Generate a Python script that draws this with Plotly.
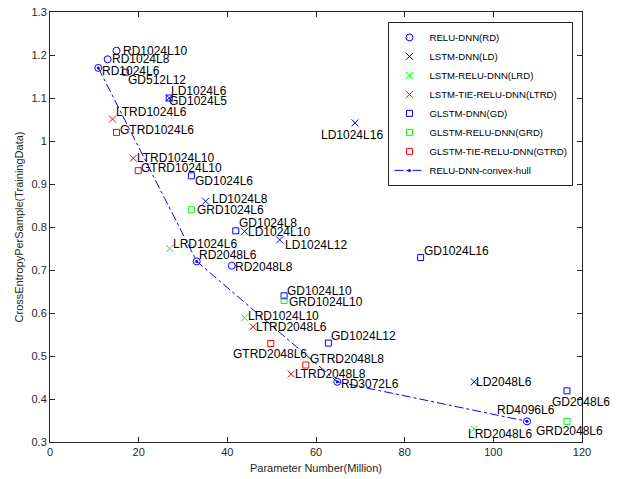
import plotly.graph_objects as go

# ---- data ----
rd_names = ["RD1024L10", "RD1024L8", "RD1024L6", "RD2048L6", "RD2048L8", "RD3072L6", "RD4096L6"]
rd_x = [15.0, 13.0, 10.9, 33.1, 41.0, 64.8, 107.6]
rd_y = [1.21, 1.19, 1.17, 0.72, 0.71, 0.44, 0.348]

ld_names = ["LD1024L6", "LD1024L16", "LD1024L8", "LD1024L10", "LD1024L12", "LD2048L6"]
ld_x = [26.9, 68.8, 35.1, 43.9, 51.8, 95.7]
ld_y = [1.10, 1.042, 0.86, 0.79, 0.77, 0.44]

lrd_names = ["LRD1024L6", "LRD1024L10", "LRD2048L6"]
lrd_x = [27.0, 43.9, 95.7]
lrd_y = [0.75, 0.589, 0.33]

ltrd_names = ["LTRD1024L6", "LTRD1024L10", "LTRD2048L6", "LTRD2048L8"]
ltrd_x = [14.1, 18.8, 45.8, 54.4]
ltrd_y = [1.051, 0.96, 0.568, 0.458]

gd_names = ["GD512L12", "GD1024L5", "GD1024L6", "GD1024L8", "GD1024L10", "GD1024L12", "GD1024L16", "GD2048L6"]
gd_x = [17.0, 26.9, 31.9, 41.9, 52.8, 62.8, 83.6, 116.6]
gd_y = [1.16, 1.10, 0.919, 0.791, 0.64, 0.53, 0.729, 0.419]

grd_names = ["GRD1024L6", "GRD1024L10", "GRD2048L6"]
grd_x = [31.9, 52.8, 116.6]
grd_y = [0.84, 0.629, 0.348]

gtrd_names = ["GTRD1024L6", "GTRD1024L10", "GTRD2048L6", "GTRD2048L8"]
gtrd_x = [15.0, 19.9, 49.8, 57.7]
gtrd_y = [1.02, 0.931, 0.529, 0.479]

hull_x = [10.9, 33.1, 64.8, 107.6]
hull_y = [1.17, 0.72, 0.44, 0.348]

x_ticks = [0, 20, 40, 60, 80, 100, 120]
y_ticks = [0.3, 0.4, 0.5, 0.6, 0.7, 0.8, 0.9, 1.0, 1.1, 1.2, 1.3]
y_tick_text = ["0.3", "0.4", "0.5", "0.6", "0.7", "0.8", "0.9", "1", "1.1", "1.2", "1.3"]

# label offsets in pixels (dx from point to text start, dy down-positive to text centre)
label_offsets = {
    "RD1024L10": (6, 0), "RD1024L8": (4, 0), "RD1024L6": (4, 3), "GD512L12": (3, 8),
    "LD1024L6": (2, -7), "GD1024L5": (0, 3), "LTRD1024L6": (3, -7), "GTRD1024L6": (3, -2),
    "LTRD1024L10": (4, 0), "GTRD1024L10": (3, -3), "GD1024L6": (4, 5), "LD1024L8": (6, -2),
    "GRD1024L6": (6, 0), "GD1024L8": (3, -8), "LD1024L10": (3, 1), "LD1024L12": (5, 5),
    "LRD1024L6": (3, -5), "RD2048L6": (2, -6), "RD2048L8": (3, 1), "GD1024L10": (3, -5),
    "GRD1024L10": (5, 1), "LRD1024L10": (3, -2), "LTRD2048L6": (3, 0), "GTRD2048L6": (-38, 10),
    "GTRD2048L8": (4, -6), "LTRD2048L8": (4, 0), "GD1024L16": (3, -7), "GD1024L12": (3, -7),
    "RD3072L6": (4, 2), "LD2048L6": (2, 0), "RD4096L6": (-30, -11), "GD2048L6": (-15, 11),
    "GRD2048L6": (-31, 10), "LRD2048L6": (-6, 5), "LD1024L16": (-34, 12),
}

BLUE, GREEN, RED = "#0000FF", "#00FF00", "#FF0000"
FONT = "Liberation Sans, Arial, sans-serif"

series = [
    ("RELU-DNN(RD)", rd_names, rd_x, rd_y, "circle-open", BLUE, 7),
    ("LSTM-DNN(LD)", ld_names, ld_x, ld_y, "x-thin-open", BLUE, 7),
    ("LSTM-RELU-DNN(LRD)", lrd_names, lrd_x, lrd_y, "x-thin-open", GREEN, 7),
    ("LSTM-TIE-RELU-DNN(LTRD)", ltrd_names, ltrd_x, ltrd_y, "x-thin-open", RED, 7),
    ("GLSTM-DNN(GD)", gd_names, gd_x, gd_y, "square-open", BLUE, 6),
    ("GLSTM-RELU-DNN(GRD)", grd_names, grd_x, grd_y, "square-open", GREEN, 6),
    ("GLSTM-TIE-RELU-DNN(GTRD)", gtrd_names, gtrd_x, gtrd_y, "square-open", RED, 6),
]

fig = go.Figure()
annotations = []
for name, names, xs, ys, sym, col, sz in series:
    fig.add_trace(go.Scatter(
        x=xs, y=ys, mode="markers", name=name,
        marker=dict(symbol=sym, color=col, size=sz, line=dict(color=col, width=1)),
    ))
    for n, xv, yv in zip(names, xs, ys):
        dx, dy = label_offsets.get(n, (4, 0))
        annotations.append(dict(
            x=xv, y=yv, xref="x", yref="y", text=n, showarrow=False,
            xanchor="left", yanchor="middle", xshift=dx, yshift=-dy,
            borderpad=0, borderwidth=0,
            font=dict(family=FONT, size=12, color="#000000"),
        ))

fig.add_trace(go.Scatter(
    x=hull_x, y=hull_y, mode="lines+markers", name="RELU-DNN-convex-hull",
    line=dict(color=BLUE, width=1, dash="dashdot"),
    marker=dict(symbol="circle", color=BLUE, size=3),
))

axis_common = dict(
    showgrid=False, zeroline=False, showline=True, linecolor="#262626", linewidth=1,
    mirror="ticks", ticks="inside", ticklen=5, tickcolor="#262626", automargin=False,
    tickfont=dict(family=FONT, size=11, color="#262626"),
)

fig.update_layout(
    width=618, height=479,
    margin=dict(l=50, r=36, t=12, b=37),
    paper_bgcolor="white", plot_bgcolor="white",
    font=dict(family=FONT, color="#262626"),
    annotations=annotations,
    showlegend=True,
    legend=dict(
        x=0.984, y=0.977, xanchor="right", yanchor="top",
        bgcolor="white", bordercolor="#262626", borderwidth=1,
        font=dict(family=FONT, size=9.6, color="#000000"),
        tracegroupgap=0,
    ),
    xaxis=dict(range=[0, 120], tickvals=x_ticks,
               title=dict(text="Parameter Number(Million)", font=dict(family=FONT, size=11, color="#262626"), standoff=7),
               **axis_common),
    yaxis=dict(range=[0.3, 1.3], tickvals=y_ticks, ticktext=y_tick_text,
               title=dict(text="CrossEntropyPerSample(TrainingData)", font=dict(family=FONT, size=11, color="#262626"), standoff=5),
               **axis_common),
)

fig.write_html("out.html")
